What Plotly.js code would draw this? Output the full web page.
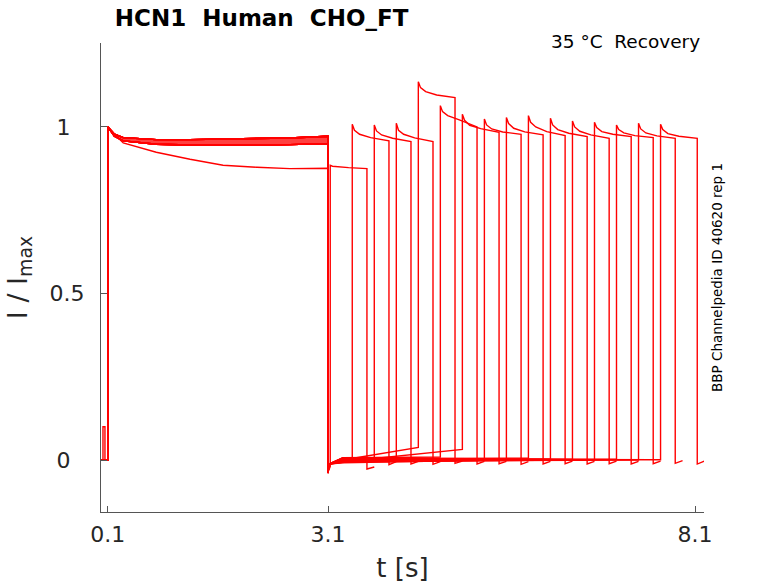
<!DOCTYPE html>
<html>
<head>
<meta charset="utf-8">
<script src="https://cdn.plot.ly/plotly-3.0.1.min.js"></script>
<style>
  body { margin: 0; background: #fff; }
  #chart { width: 778px; height: 583px; }
</style>
</head>
<body>
<div id="chart"></div>
<script>
// values (I / Imax against time in s)
var pulse1Times  = [0.1, 0.19, 0.31, 0.76, 1.22, 1.67, 2.13, 2.58, 3.1];
var pulse1Upper  = [1.0, 0.978, 0.968, 0.962, 0.962, 0.963, 0.965, 0.967, 0.972];
var pulse1Middle = [1.0, 0.972, 0.958, 0.948, 0.946, 0.945, 0.946, 0.947, 0.950];
var pulse1Lower  = [1.0, 0.978, 0.952, 0.924, 0.903, 0.885, 0.879, 0.875, 0.876];

// which first-pulse trace each sweep follows (0 upper, 1 middle, 2 lower)
var pulse1Group = [2, 0, 1, 0, 1, 0, 1, 0, 1, 0, 1, 0, 1, 0, 1, 0];

// second pulse of each sweep
var onsetTimes   = [3.13, 3.43, 3.73, 4.03, 4.33, 4.63, 4.93, 5.23, 5.53, 5.83, 6.13, 6.43, 6.73, 7.03, 7.33, 7.63];
var pulse2Offsets = [0, 0.03, 0.1, 0.25, 0.5];
var pulse2Peak  = [0.885, 1.008, 1.006, 1.011, 1.136, 1.064, 1.038, 1.024, 1.028, 1.034, 1.026, 1.018, 1.014, 1.006, 1.011, 1.008];
var pulse2Early = [0.882, 0.990, 0.988, 0.990, 1.118, 1.046, 1.020, 1.006, 1.010, 1.014, 1.006, 1.000, 0.998, 0.992, 0.994, 0.992];
var pulse2Mid   = [0.880, 0.978, 0.976, 0.978, 1.106, 1.034, 1.005, 0.994, 0.996, 1.000, 0.992, 0.987, 0.986, 0.982, 0.982, 0.980];
var pulse2Late  = [0.878, 0.968, 0.966, 0.967, 1.096, 1.022, 0.995, 0.985, 0.985, 0.986, 0.981, 0.976, 0.978, 0.974, 0.973, 0.972];
var pulse2End   = [0.875, 0.958, 0.956, 0.956, 1.088, 1.000, 0.984, 0.978, 0.976, 0.974, 0.971, 0.966, 0.971, 0.968, 0.966, 0.966];

// current between the pulses and after the second pulse
var gapDrop   = [-0.035, -0.04, -0.035, -0.038, -0.03, -0.036, -0.033, -0.04, -0.035, -0.037, -0.034, -0.039, -0.036, -0.035, -0.038, -0.036];
var gapMid    = [-0.02, -0.008, 0.006, -0.004, 0.0, 0.007, -0.005, 0.003, -0.008, 0.004, -0.002, 0.006, -0.006, 0.001, -0.004, 0.002];
var gapEnd    = [-0.02, -0.004, 0.008, 0.002, 0.038, 0.009, 0.032, 0.005, 0.001, 0.006, 0.003, 0.002, 0.001, 0.003, 0.0, 0.001];
var tailStart = [-0.027, -0.014, -0.012, -0.013, -0.01, -0.012, -0.011, -0.013, -0.012, -0.011, -0.012, -0.011, -0.012, -0.011, -0.01, -0.012];
var tailEnd   = [-0.021, -0.005, -0.004, -0.005, -0.003, -0.004, -0.004, -0.005, -0.004, -0.003, -0.004, -0.003, -0.004, -0.003, -0.002, -0.003];

// small artefact before the first step
var spikeTimes  = [0.034, 0.034, 0.061, 0.061];
var spikeValues = [0, 0.1, 0.1, 0];

var red = '#ff0000';
var lw = 1.4;
var pulse1Sets = [pulse1Upper, pulse1Middle, pulse1Lower];
var traces = [];

// noisy band of the first pulse
traces.push({x: pulse1Times, y: pulse1Middle, mode: 'lines', line: {color: red, width: lw}, hoverinfo: 'skip'});
traces.push({x: pulse1Times, y: pulse1Upper, mode: 'lines', line: {color: red, width: lw},
  fill: 'tonexty', fillcolor: 'rgba(255,0,0,0.75)', hoverinfo: 'skip'});

onsetTimes.forEach(function (onset, k) {
  var xs = [0.007, 0.1];
  var ys = [0, 0];
  var first = pulse1Sets[pulse1Group[k]];
  pulse1Times.forEach(function (t, i) { xs.push(t); ys.push(first[i]); });
  // step back at 3.1 s
  xs.push(3.1); ys.push(gapDrop[k]);
  if (onset - 3.1 > 0.2) {
    xs.push(3.115, 3.3); ys.push(-0.012, gapMid[k]);
  }
  xs.push(onset); ys.push(gapEnd[k]);
  var p2 = [pulse2Peak[k], pulse2Early[k], pulse2Mid[k], pulse2Late[k], pulse2End[k]];
  pulse2Offsets.forEach(function (d, i) { xs.push(onset + d); ys.push(p2[i]); });
  var end = onset + 0.5;
  xs.push(end, end + 0.1); ys.push(tailStart[k], tailEnd[k]);
  traces.push({x: xs, y: ys, mode: 'lines', line: {color: red, width: lw}, hoverinfo: 'skip'});
});

traces.push({x: spikeTimes, y: spikeValues, mode: 'lines', line: {color: red, width: lw}, hoverinfo: 'skip'});

var nb = '\u00a0';
var axisFont = {family: 'DejaVu Sans', size: 22, color: '#262626'};

var layout = {
  width: 778,
  height: 583,
  margin: {l: 101, r: 74, t: 43, b: 71},
  paper_bgcolor: '#fff',
  plot_bgcolor: '#fff',
  showlegend: false,
  font: {family: 'DejaVu Sans', color: '#262626'},
  title: {
    text: '<b>HCN1' + nb + nb + 'Human' + nb + nb + 'CHO_FT</b>',
    font: {family: 'DejaVu Sans', size: 23, color: '#000'},
    xref: 'paper', x: 0.023, xanchor: 'left',
    yref: 'container', y: 0.969, yanchor: 'middle'
  },
  xaxis: {
    range: [0.007, 8.222],
    tickvals: [0.1, 3.1, 8.1],
    ticktext: ['0.1', '3.1', '8.1'],
    ticks: 'inside', ticklen: 6, tickcolor: '#555',
    showline: true, linecolor: '#555', linewidth: 1,
    showgrid: false, zeroline: false,
    tickfont: axisFont, ticklabelstandoff: 3,
    title: {text: 't [s]', font: {family: 'DejaVu Sans', size: 26, color: '#262626'}}
  },
  yaxis: {
    range: [-0.156, 1.252],
    tickvals: [0, 0.5, 1],
    ticktext: ['0' + nb + nb, '0.5', '1' + nb + nb],
    ticks: 'inside', ticklen: 6, tickcolor: '#555',
    showline: true, linecolor: '#555', linewidth: 1,
    showgrid: false, zeroline: false,
    tickfont: axisFont, ticklabelstandoff: 11,
    title: {text: 'I / I<sub>max</sub>', standoff: 14,
            font: {family: 'DejaVu Sans', size: 27, color: '#262626'}}
  },
  annotations: [
    {text: '35 °C' + nb + nb + 'Recovery', xref: 'paper', yref: 'paper', x: 0.9975, y: 1.004,
     xanchor: 'right', yanchor: 'middle', showarrow: false,
     font: {family: 'DejaVu Sans', size: 18.5, color: '#000'}},
    {text: 'BBP Channelpedia ID 40620 rep 1', xref: 'paper', yref: 'paper', x: 1.0207, y: 0.5,
     xanchor: 'center', yanchor: 'middle', textangle: -90, showarrow: false,
     font: {family: 'DejaVu Sans', size: 13.5, color: '#000'}}
  ]
};

Plotly.newPlot('chart', traces, layout, {displayModeBar: false, staticPlot: true});
</script>
</body>
</html>
